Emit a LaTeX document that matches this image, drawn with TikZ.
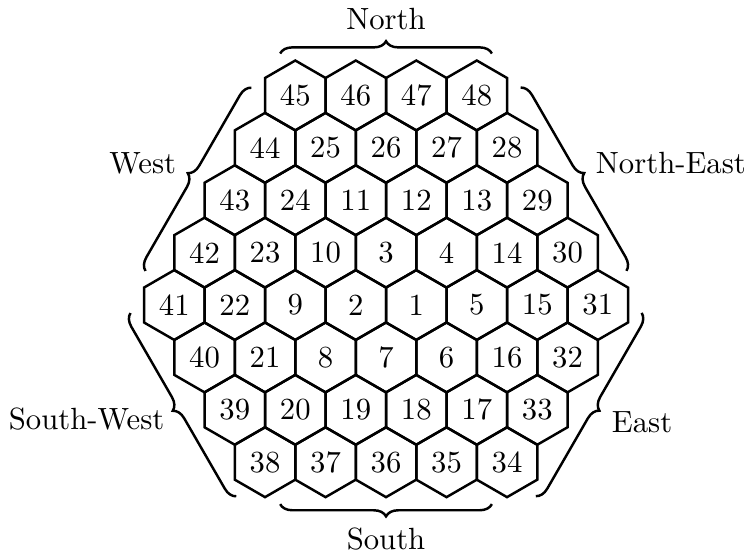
\documentclass[tikz,border=0pt]{standalone}
\usetikzlibrary{shapes.geometric, decorations.pathreplacing, calc}

\begin{document}
\begin{tikzpicture}[
  hexa/.style={draw, thick, regular polygon, regular polygon sides=6, shape border rotate=30, minimum size=0.8cm, inner sep=0pt},
  sidebrace/.style={decorate, decoration={brace, amplitude=4pt}, thick}]
\useasboundingbox (-4.767,-2.874) rectangle (3.833,3.493);
% rows of the grid, top to bottom: row, first column, labels
\foreach \row/\first/\labels in {
    4/-2/{45,46,47,48},
    3/-2.5/{44,25,26,27,28},
    2/-3/{43,24,11,12,13,29},
    1/-3.5/{42,23,10,3,4,14,30},
    0/-4/{41,22,9,2,1,5,15,31},
    -1/-3.5/{40,21,8,7,6,16,32},
    -2/-3/{39,20,19,18,17,33},
    -3/-2.5/{38,37,36,35,34}}
  \foreach \n [count=\i from 0] in \labels
    \node[hexa] (h\n) at ({(\first+\i)*0.6928}, {\row*0.6}) {\n};
% corner shared by 3, 2 and 1
\coordinate (c) at ($(h2)!0.5!(h1)+(0,0.2)$);
\foreach \ang/\dist in {90/2.68, 30/2.48, -30/2.68, -90/2.48, -150/2.68, 150/2.48}
  \draw[sidebrace] ($(c)+(\ang:\dist)+(\ang+90:1.2124)$) -- ($(c)+(\ang:\dist)+(\ang-90:1.2124)$);
\node[anchor=south] (north) at ($(c)+(90:2.824)$) {North};
\node[anchor=west] (northeast) at ($(c)+(32:2.688)$) {North-East};
\node[anchor=west] (east) at ($(c)+(-32:2.904)$) {East};
\node[anchor=north] (south) at ($(c)+(-90:2.624)$) {South};
\node[anchor=east] (southwest) at ($(c)+(-148:2.848)$) {South-West};
\node[anchor=east] (west) at ($(c)+(148:2.688)$) {West};
\end{tikzpicture}
\end{document}
